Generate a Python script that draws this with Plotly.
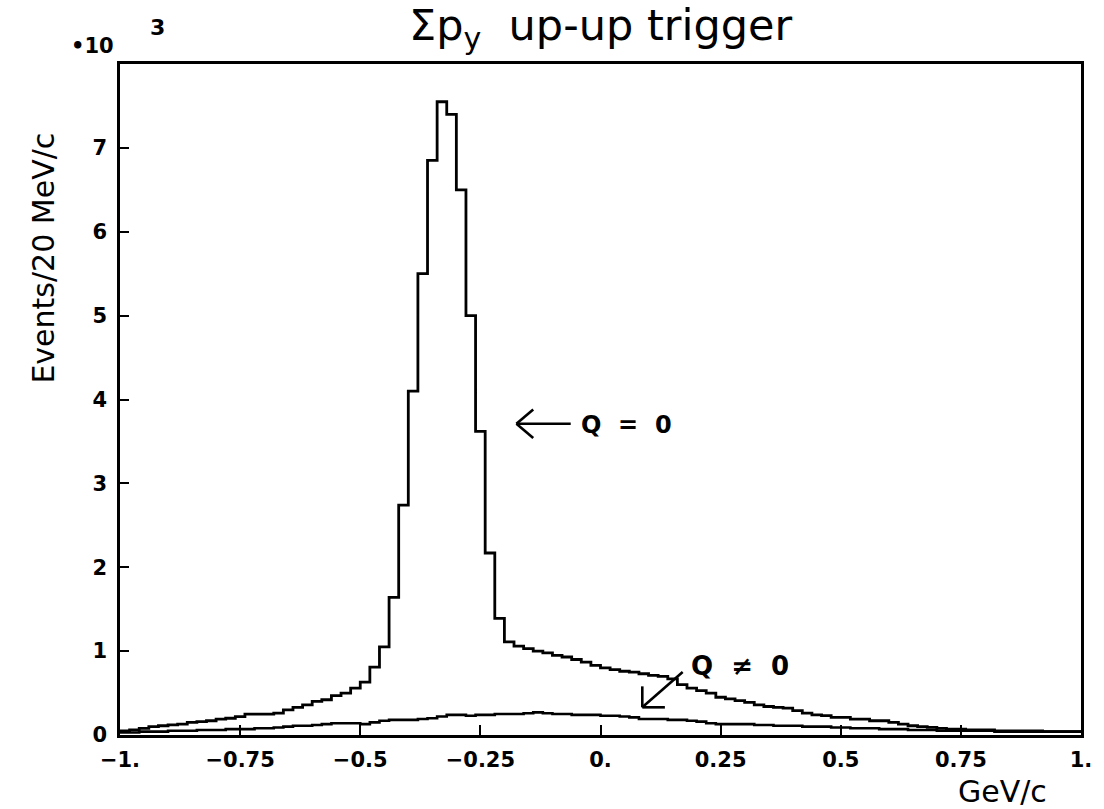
import numpy as np
import plotly.graph_objects as go

# ---------------- data (units of 10^3 events / 20 MeV/c) ----------------
BIN_LOW = -1.0
BIN_WIDTH = 0.02

q_zero = [
    0.05, 0.06, 0.08, 0.10, 0.11, 0.12, 0.13, 0.15, 0.16, 0.17,
    0.19, 0.20, 0.22, 0.25, 0.25, 0.25, 0.26, 0.30, 0.33, 0.36,
    0.40, 0.42, 0.47, 0.50, 0.56, 0.63, 0.81, 1.05, 1.64, 2.74,
    4.10, 5.50, 6.85, 7.55, 7.40, 6.50, 5.00, 3.62, 2.17, 1.39,
    1.11, 1.06, 1.03, 1.00, 0.98, 0.95, 0.93, 0.90, 0.87, 0.83,
    0.80, 0.78, 0.76, 0.75, 0.73, 0.71, 0.70, 0.67, 0.60, 0.56,
    0.53, 0.50, 0.45, 0.43, 0.41, 0.39, 0.36, 0.34, 0.33, 0.32,
    0.29, 0.26, 0.24, 0.23, 0.21, 0.21, 0.19, 0.19, 0.17, 0.17,
    0.15, 0.13, 0.11, 0.10, 0.09, 0.08, 0.07, 0.07, 0.06, 0.06,
    0.06, 0.05, 0.05, 0.05, 0.05, 0.05, 0.04, 0.04, 0.04, 0.04,
]

q_nonzero = [
    0.03, 0.03, 0.04, 0.04, 0.04, 0.05, 0.05, 0.05, 0.06, 0.06,
    0.06, 0.07, 0.07, 0.07, 0.08, 0.08, 0.09, 0.10, 0.11, 0.11,
    0.12, 0.13, 0.14, 0.14, 0.14, 0.13, 0.15, 0.17, 0.18, 0.18,
    0.18, 0.19, 0.20, 0.22, 0.24, 0.24, 0.23, 0.24, 0.24, 0.25,
    0.25, 0.25, 0.26, 0.27, 0.26, 0.25, 0.25, 0.24, 0.24, 0.24,
    0.23, 0.23, 0.22, 0.21, 0.19, 0.19, 0.19, 0.18, 0.18, 0.17,
    0.16, 0.14, 0.13, 0.13, 0.13, 0.13, 0.12, 0.12, 0.11, 0.11,
    0.11, 0.10, 0.10, 0.10, 0.09, 0.09, 0.08, 0.08, 0.08, 0.07,
    0.07, 0.07, 0.06, 0.06, 0.06, 0.05, 0.05, 0.05, 0.05, 0.05,
    0.05, 0.04, 0.04, 0.04, 0.04, 0.04, 0.04, 0.04, 0.04, 0.04,
]

x_tick_vals = [-1.0, -0.75, -0.5, -0.25, 0.0, 0.25, 0.5, 0.75, 1.0]
x_tick_text = ["\u22121.", "\u22120.75", "\u22120.5", "\u22120.25", "0.", "0.25", "0.5", "0.75", "1."]
y_tick_vals = [0, 1, 2, 3, 4, 5, 6, 7]
y_tick_text = ["0", "1", "2", "3", "4", "5", "6", "7"]

# ---------------- build step outlines ----------------
n_bins = len(q_zero)
edges = BIN_LOW + BIN_WIDTH * np.arange(n_bins + 1)


def step_xy(vals):
    return list(edges), list(vals) + [vals[-1]]


FONT = "DejaVu Sans"
INK = "black"

fig = go.Figure()
for vals, w in ((q_nonzero, 2.6), (q_zero, 2.8)):
    sx, sy = step_xy(vals)
    fig.add_trace(go.Scatter(
        x=sx, y=sy, mode="lines", line=dict(shape="hv", color=INK, width=w),
        hoverinfo="skip", showlegend=False,
    ))

fig.update_layout(
    width=1104, height=809,
    margin=dict(l=120, r=14, t=64, b=74),
    paper_bgcolor="white", plot_bgcolor="white",
    showlegend=False,
    font=dict(family=FONT, color=INK),
)

fig.update_xaxes(
    range=[-1, 1], showgrid=False, zeroline=False,
    showline=True, linecolor=INK, linewidth=2.5, mirror=True,
    ticks="inside", ticklen=10, tickwidth=2, tickcolor=INK,
    tickvals=x_tick_vals, ticktext=x_tick_text, ticklabelstandoff=4,
    tickfont=dict(family=FONT, size=21, color=INK, weight="bold"),
)
fig.update_yaxes(
    range=[0, 8], showgrid=False, zeroline=False,
    showline=True, linecolor=INK, linewidth=2.5, mirror=True,
    ticks="inside", ticklen=9, tickwidth=2, tickcolor=INK,
    tickvals=y_tick_vals, ticktext=y_tick_text, ticklabelstandoff=6,
    tickfont=dict(family=FONT, size=21, color=INK, weight="bold"),
)

annotations = [
    dict(text="\u03a3p<sub>y</sub>  up-up trigger", xref="paper", yref="paper",
         x=0.5, y=1.0, xanchor="center", yanchor="bottom", yshift=6,
         showarrow=False, font=dict(family=FONT, size=43, color=INK)),
    dict(text="GeV/c", xref="paper", yref="paper", x=0.918, y=0, xanchor="center",
         yanchor="top", yshift=-37, showarrow=False,
         font=dict(family=FONT, size=30, color=INK)),
    dict(text="Events/20 MeV/c", xref="paper", yref="paper", x=0, y=0.71,
         xanchor="center", yanchor="middle", xshift=-76, textangle=-90,
         showarrow=False, font=dict(family=FONT, size=30, color=INK)),
    dict(text="\u202210", xref="paper", yref="paper", x=0, y=1.0, xanchor="right",
         yanchor="bottom", xshift=-4, yshift=4, showarrow=False,
         font=dict(family=FONT, size=21, color=INK, weight="bold")),
    dict(text="3", xref="paper", yref="paper", x=0, y=1.0, xanchor="left",
         yanchor="bottom", xshift=28, yshift=22, showarrow=False,
         font=dict(family=FONT, size=22, color=INK, weight="bold")),
    dict(text="Q  =  0", xref="x", yref="y", x=-0.045, y=3.70, xanchor="left",
         yanchor="middle", showarrow=False,
         font=dict(family=FONT, size=24, color=INK, weight="bold")),
    dict(text="Q  \u2260  0", xref="x", yref="y", x=0.185, y=0.82, xanchor="left",
         yanchor="middle", showarrow=False,
         font=dict(family=FONT, size=26, color=INK, weight="bold")),
]
fig.update_layout(annotations=annotations)

# arrows (decorations)
arrow_style = dict(color=INK, width=2.6)
shapes = [
    # Q = 0 arrow
    dict(type="line", xref="x", yref="y", x0=-0.062, y0=3.71, x1=-0.175, y1=3.71, line=arrow_style),
    dict(type="line", xref="x", yref="y", x0=-0.175, y0=3.71, x1=-0.140, y1=3.88, line=arrow_style),
    dict(type="line", xref="x", yref="y", x0=-0.175, y0=3.71, x1=-0.140, y1=3.54, line=arrow_style),
    # Q != 0 arrow
    dict(type="line", xref="x", yref="y", x0=0.171, y0=0.75, x1=0.087, y1=0.33, line=arrow_style),
    dict(type="line", xref="x", yref="y", x0=0.087, y0=0.33, x1=0.134, y1=0.33, line=arrow_style),
    dict(type="line", xref="x", yref="y", x0=0.087, y0=0.33, x1=0.087, y1=0.58, line=arrow_style),
]
fig.update_layout(shapes=shapes)

fig.write_html("out.html")
